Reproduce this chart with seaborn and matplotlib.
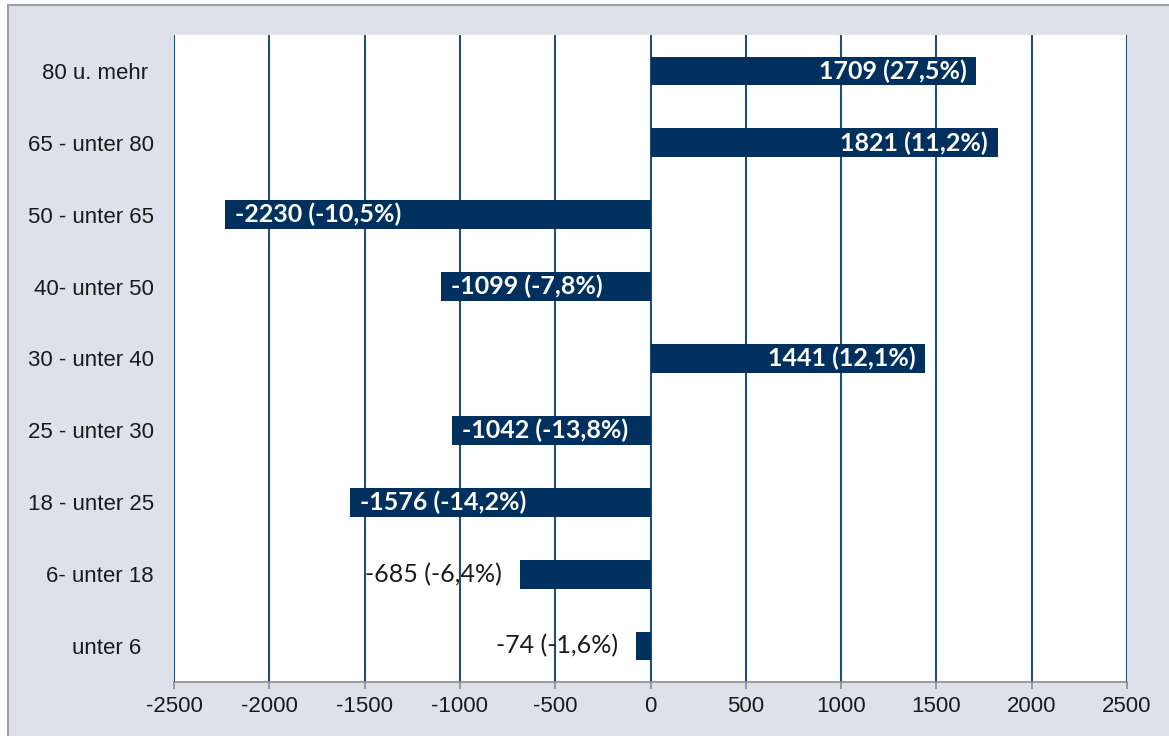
import seaborn as sns
import matplotlib.pyplot as plt
import matplotlib.ticker as ticker
from matplotlib.patches import Rectangle
import pandas as pd

# Altersgruppen (von oben nach unten) und Veränderung
gruppen = ['80 u. mehr ', '65 - unter 80', '50 - unter 65', '40- unter 50', '30 - unter 40',
           '25 - unter 30', '18 - unter 25', '6- unter 18', 'unter 6  ']
werte = [1709, 1821, -2230, -1099, 1441, -1042, -1576, -685, -74]
prozent = ['27,5%', '11,2%', '-10,5%', '-7,8%', '12,1%', '-13,8%', '-14,2%', '-6,4%', '-1,6%']
x_ticks = [-2500, -2000, -1500, -1000, -500, 0, 500, 1000, 1500, 2000, 2500]


def draw_chart():
    df = pd.DataFrame({'gruppe': gruppen, 'wert': werte})

    sns.set_style('white')
    plt.rcParams['font.family'] = ['Liberation Sans', 'DejaVu Sans']
    bg = '#dee1ea'
    navy = '#00305e'
    grid = '#1f4e79'
    lbl_font = ['Lato', 'DejaVu Sans']

    fig = plt.figure(figsize=(11.69, 7.36), dpi=100)
    fig.patch.set_facecolor(bg)
    # weisser Rand oben/links und graue Rahmenlinie
    fig.patches.append(Rectangle((0, 0), 1, 1, transform=fig.transFigure,
                                 facecolor='white', edgecolor='none', zorder=-3))
    fig.patches.append(Rectangle((8 / 1169, -0.1), 1.2, 1.1 - 5 / 736, transform=fig.transFigure,
                                 facecolor=bg, edgecolor='#a0a0a0', linewidth=1.5, zorder=-2))

    ax = fig.add_axes([174 / 1169, 1 - 682 / 736, 953 / 1169, 647 / 736])
    ax.set_facecolor('white')
    sns.barplot(x='wert', y='gruppe', data=df, orient='h', color=navy, width=0.4,
                saturation=1, linewidth=0, edgecolor=navy, ax=ax, zorder=3)

    ax.set_xlim(-2500, 2500)
    ax.set_ylim(8.5, -0.5)
    ax.xaxis.set_major_locator(ticker.FixedLocator(x_ticks))
    ax.set_xticklabels([str(t) for t in x_ticks])
    ax.set_xlabel('')
    ax.set_ylabel('')
    ax.grid(axis='x', color=grid, linewidth=1.5, zorder=0)
    ax.set_axisbelow(True)

    for s in ['top', 'left', 'right']:
        ax.spines[s].set_visible(False)
    ax.spines['bottom'].set_color('#8c8c8c')
    ax.spines['bottom'].set_linewidth(1.2)
    ax.tick_params(axis='x', bottom=True, length=5, width=1.2, color='#8c8c8c',
                   labelsize=16, labelcolor='#1a1a1a', pad=5)
    ax.tick_params(axis='y', left=False, labelsize=16, labelcolor='#1a1a1a', pad=11)

    for i, (v, p) in enumerate(zip(werte, prozent)):
        txt = f'{v} ({p})'
        if abs(v) > 800:
            if v > 0:
                ax.annotate(txt, (v, i), xytext=(-7, 0), textcoords='offset points',
                            ha='right', va='center', color='white', fontsize=18,
                            fontweight='bold', family=lbl_font, zorder=5)
            else:
                ax.annotate(txt, (v, i), xytext=(7, 0), textcoords='offset points',
                            ha='left', va='center', color='white', fontsize=18,
                            fontweight='bold', family=lbl_font, zorder=5)
        else:
            ax.annotate(txt, (v, i), xytext=(-13, 0), textcoords='offset points',
                        ha='right', va='center', color='#1a1a1a', fontsize=18,
                        family=lbl_font, zorder=5)

    fig.savefig('out.png', dpi=100, facecolor=fig.get_facecolor())


if __name__ == '__main__':
    draw_chart()
